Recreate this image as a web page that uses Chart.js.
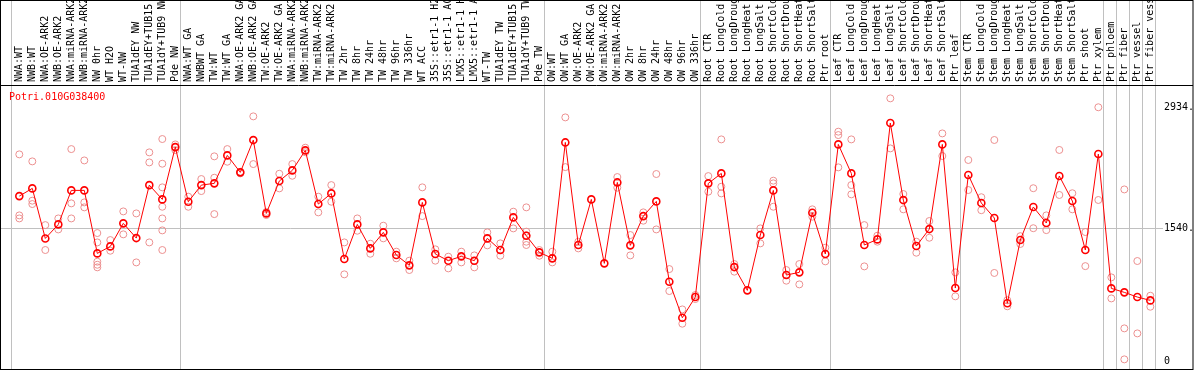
<!DOCTYPE html>
<html><head><meta charset="utf-8">
<script src="https://cdn.jsdelivr.net/npm/chart.js@4"></script>
<style>html,body{margin:0;padding:0;background:#fff}#wrap{width:1194px;height:370px}</style>
</head><body><div id="wrap"><canvas id="c" width="1194" height="370"></canvas></div>
<script>
const geneTitle = "Potri.010G038400";
const categories = ["NWA:WT","NWB:WT","NWA:OE-ARK2","NWB:OE-ARK2","NWA:miRNA-ARK2","NWB:miRNA-ARK2","NW 0hr","WT H2O","WT-NW","TUA1dEY NW","TUA1dEY+TUB15 NW","TUA1dY+TUB9 NW","Pde NW",
"NWA:WT GA","NWBWT GA","TW:WT","TW:WT GA","NWA:OE-ARK2 GA","NWB:OE-ARK2 GA","TW:OE-ARK2","TW:OE-ARK2 GA","NWA:miRNA-ARK2","NWB:miRNA-ARK2","TW:miRNA-ARK2","TW:miRNA-ARK2 GA","TW 2hr","TW 8hr","TW 24hr","TW 48hr","TW 96hr","TW 336hr","WT ACC","35S::etr1-1 H2O","35S::etr1-1 ACC","LMX5::etr1-1 H2O","LMX5::etr1-1 ACC","WT-TW","TUA1dEY TW","TUA1dEY+TUB15 TW","TUA1dY+TUB9 TW","Pde TW",
"OW:WT","OW:WT GA","OW:OE-ARK2","OW:OE-ARK2 GA","OW:miRNA-ARK2","OW:miRNA-ARK2 GA","OW 2hr","OW 8hr","OW 24hr","OW 48hr","OW 96hr","OW 336hr",
"Root CTR","Root LongCold","Root LongDrought","Root LongHeat","Root LongSalt","Root ShortCold","Root ShortDrought","Root ShortHeat","Root ShortSalt","Ptr root",
"Leaf CTR","Leaf LongCold","Leaf LongDrought","Leaf LongHeat","Leaf LongSalt","Leaf ShortCold","Leaf ShortDrought","Leaf ShortHeat","Leaf ShortSalt","Ptr leaf",
"Stem CTR","Stem LongCold","Stem LongDrought","Stem LongHeat","Stem LongSalt","Stem ShortCold","Stem ShortDrought","Stem ShortHeat","Stem ShortSalt","Ptr shoot",
"Ptr xylem","Ptr phloem","Ptr fiber","Ptr vessel","Ptr fiber vessel"];
const means = [1913,2002,1424,1586,1979,1979,1251,1332,1598,1428,2040,1875,2479,
1848,2040,2060,2383,2187,2560,1713,2087,2210,2441,1821,1944,1186,1586,1309,1494,1232,1113,1840,1244,1167,1217,1167,1425,1290,1667,1455,1263,
1194,2533,1348,1875,1136,2071,1344,1682,1852,924,508,747,
2060,2175,1093,824,1463,1979,1001,1032,1721,1244,
2510,2175,1348,1413,2757,1867,1336,1532,2510,851,
2157,1833,1660,675,1406,1787,1602,2145,1856,1290,
2399,847,801,747,708];
const replicates = [[2395,1690,1655],[2314,1860,1821],[1578,1290],[1655,1528],[2456,1829,1655],[2325,1840,1783],[1486,1378,1155,1120,1090],[1405,1282],[1736,1471],[1713,1147],[2418,2302,1378],[2572,2287,2014,1790,1655,1517,1290],[2510,2445],
[1906,1790],[2110,1971],[2372,2125,1705],[2456,2310],[2194,2175],[2834,2283],[1694,1730],[2171,2002],[2283,2148],[2472,2420],[1906,1725],[2040,1848],[1378,1009],[1655,1513],[1363,1247],[1571,1425],[1271,1194],[1167,1059],[2014,1682],[1298,1167],[1213,1078],[1271,1147],[1228,1090],[1494,1344],[1367,1224],[1733,1540],[1783,1502,1460,1386,1348],[1290,1224],
[1271,1147],[2822,2248],[1386,1309],[],[],[2133,2010],[1463,1228],[1725,1629],[2168,1528],[1070,816],[604,439],[770,724],
[2144,1964],[2568,2021,1944],[1128,1040],[],[1540,1367],[2091,2060,1790],[1059,936],[1128,893],[1760,1675],[1317,1159],
[2657,2618,2245],[2568,2040,1933],[1578,1101],[1455,1386],[3042,2464],[1937,1760],[1386,1259],[1625,1432],[2637,2376],[1032,755],
[2330,1983],[1900,1750],[2561,1025],[710,640],[1450,1360],[2004,1542],[1690,1520],[2446,1926],[1946,1760],[1498,1104],
[2939,1868],[974,731],[1990,385,27],[1163,327],[762,635]];
const groupEnds = [0,13,41,53,63,73,84,85,86,87,88];
const yTicks = [0,1540,2934];
const yTickLabels = ["0","1540.","2934."];

const MONO = "'DejaVu Sans Mono', monospace";
const meanPts = means.map((v,i)=>({x:i+1,y:v}));
const repPts = [];
replicates.forEach((arr,i)=>arr.forEach(v=>repPts.push({x:i+1,y:v})));

const framePlugin = {
  id:'frame',
  beforeDatasetsDraw(chart){
    const ctx = chart.ctx, xs = chart.scales.x, a = chart.chartArea;
    ctx.save();
    ctx.strokeStyle = '#c0c0c0'; ctx.lineWidth = 1;
    groupEnds.forEach(g=>{
      const px = Math.round(xs.getPixelForValue(g + 5/13)) + 0.5;
      ctx.beginPath(); ctx.moveTo(px, 0); ctx.lineTo(px, a.bottom); ctx.stroke();
    });
    ctx.restore();
  },
  afterDraw(chart){
    const ctx = chart.ctx, a = chart.chartArea, W = chart.width, H = chart.height;
    ctx.save();
    ctx.strokeStyle = '#000'; ctx.lineWidth = 1;
    ctx.strokeRect(0.5, 0.5, W - 1.5, H - 1);
    ctx.beginPath(); ctx.moveTo(0, Math.round(a.top)+0.5); ctx.lineTo(W-1, Math.round(a.top)+0.5); ctx.stroke();
    ctx.fillStyle = '#ff0000';
    ctx.font = "10px " + MONO;
    ctx.textBaseline = 'middle'; ctx.textAlign = 'left';
    ctx.fillText(geneTitle, a.left + 8, a.top + 12);
    ctx.restore();
  }
};

new Chart(document.getElementById('c'), {
  type: 'scatter',
  data: { datasets: [
    { type:'line', label:'mean', data: meanPts, order:0, borderColor:'#ff0000', borderWidth:1, tension:0,
      pointRadius:3.5, pointBorderWidth:1.6, pointBorderColor:'#ff0000', pointBackgroundColor:'rgba(0,0,0,0)', fill:false },
    { type:'scatter', label:'replicates', data: repPts, order:1, showLine:false,
      pointRadius:3.5, pointBorderWidth:1, pointBorderColor:'#ec9090', pointBackgroundColor:'rgba(0,0,0,0)' }
  ]},
  options: {
    responsive:false, animation:false, devicePixelRatio:1,
    layout:{ autoPadding:false, padding:{ left:1, right:0, top:0, bottom:1 } },
    plugins:{ legend:{display:false}, tooltip:{enabled:false}, title:{display:false} },
    scales:{
      x:{ type:'linear', position:'top', min:-0.408, max:88.59,
        afterBuildTicks: s => { s.ticks = categories.map((c,i)=>({value:i+1})); },
        afterFit: s => { s.height = 85; s.paddingLeft = 0; s.paddingRight = 0; },
        ticks:{ autoSkip:false, minRotation:90, maxRotation:90, padding:3, labelOffset:12, color:'#000',
          font:{ family:MONO, size:10 }, callback:(v)=>categories[Math.round(v)-1] },
        grid:{ display:false, drawTicks:false }, border:{ display:false } },
      y:{ type:'linear', position:'right', min:-84.3, max:3196.3,
        afterBuildTicks: s => { s.ticks = yTicks.map(v=>({value:v})); },
        afterFit: s => { s.width = 36; s.paddingTop = 0; s.paddingBottom = 0; },
        ticks:{ padding:1, color:'#000', font:{ family:MONO, size:10 }, callback:(v,i)=>yTickLabels[i] },
        grid:{ color: c => (c.tick && c.tick.value===1540) ? '#c0c0c0' : 'rgba(0,0,0,0)', tickLength:5 },
        border:{ display:false } }
    }
  },
  plugins:[framePlugin]
});
</script></body></html>
